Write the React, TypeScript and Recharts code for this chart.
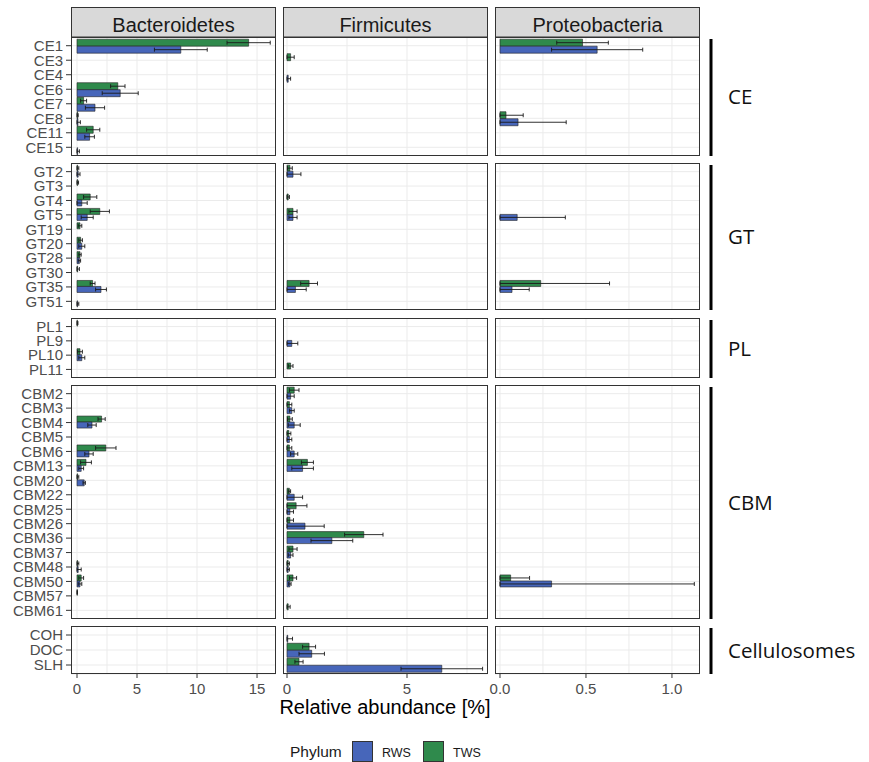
import React from 'react';
import { BarChart, Bar, XAxis, YAxis, CartesianGrid, ErrorBar } from 'recharts';

type Pt = [number, number] | null; // [mean, sd]

const phyla = ['Bacteroidetes', 'Firmicutes', 'Proteobacteria'];
const modules = ['CE', 'GT', 'PL', 'CBM', 'Cellulosomes'];

const ceCats = ['CE1', 'CE3', 'CE4', 'CE6', 'CE7', 'CE8', 'CE11', 'CE15'];
const gtCats = ['GT2', 'GT3', 'GT4', 'GT5', 'GT19', 'GT20', 'GT28', 'GT30', 'GT35', 'GT51'];
const plCats = ['PL1', 'PL9', 'PL10', 'PL11'];
const cbmCats = [
  'CBM2', 'CBM3', 'CBM4', 'CBM5', 'CBM6', 'CBM13', 'CBM20', 'CBM22',
  'CBM25', 'CBM26', 'CBM36', 'CBM37', 'CBM48', 'CBM50', 'CBM57', 'CBM61',
];
const cellCats = ['COH', 'DOC', 'SLH'];

// CE
const ceBactTWS: Pt[] = [[14.3, 1.8], null, null, [3.4, 0.6], [0.55, 0.25], [0.05, 0.05], [1.35, 0.55], null];
const ceBactRWS: Pt[] = [[8.65, 2.2], null, null, [3.6, 1.5], [1.5, 0.8], [0.08, 0.2], [1.05, 0.4], [0.05, 0.15]];
const ceFirmTWS: Pt[] = [null, [0.15, 0.15], null, null, null, null, null, null];
const ceFirmRWS: Pt[] = [null, null, [0.05, 0.1], null, null, null, null, null];
const ceProtTWS: Pt[] = [[0.48, 0.15], null, null, null, null, [0.035, 0.1], null, null];
const ceProtRWS: Pt[] = [[0.565, 0.265], null, null, null, null, [0.105, 0.28], null, null];

// GT
const gtBactTWS: Pt[] = [[0.05, 0.1], [0.05, 0.08], [1.1, 0.55], [1.9, 0.8], [0.25, 0.15], [0.3, 0.15], [0.25, 0.1], [0.05, 0.15], [1.3, 0.2], null];
const gtBactRWS: Pt[] = [[0.1, 0.15], null, [0.4, 0.45], [0.85, 0.5], null, [0.4, 0.25], [0.2, 0.1], null, [2.0, 0.45], [0.05, 0.1]];
const gtFirmTWS: Pt[] = [[0.12, 0.1], null, [0.05, 0.05], [0.25, 0.17], null, null, null, null, [0.92, 0.35], null];
const gtFirmRWS: Pt[] = [[0.25, 0.33], null, null, [0.25, 0.17], null, null, null, null, [0.35, 0.45], null];
const gtProtTWS: Pt[] = [null, null, null, null, null, null, null, null, [0.237, 0.4], null];
const gtProtRWS: Pt[] = [null, null, null, [0.1, 0.28], null, null, null, null, [0.07, 0.1], null];

// PL
const plBactTWS: Pt[] = [[0.03, 0.05], null, [0.25, 0.2], null];
const plBactRWS: Pt[] = [null, null, [0.4, 0.25], null];
const plFirmTWS: Pt[] = [null, null, null, [0.15, 0.1]];
const plFirmRWS: Pt[] = [null, [0.2, 0.25], null, null];
const plProtTWS: Pt[] = [null, null, null, null];
const plProtRWS: Pt[] = [null, null, null, null];

// CBM
const cbmBactTWS: Pt[] = [null, null, [2.05, 0.3], null, [2.4, 0.85], [0.75, 0.45], [0.05, 0.1], null, null, null, null, null, [0.05, 0.1], [0.35, 0.2], [0.02, 0.02], null];
const cbmBactRWS: Pt[] = [null, null, [1.25, 0.35], null, [1.0, 0.35], [0.35, 0.2], [0.6, 0.1], null, null, null, null, null, [0.1, 0.25], [0.25, 0.15], null, null];
const cbmFirmTWS: Pt[] = [[0.3, 0.2], [0.1, 0.1], [0.12, 0.1], [0.08, 0.08], [0.1, 0.1], [0.85, 0.25], null, [0.1, 0.05], [0.38, 0.45], [0.12, 0.15], [3.2, 0.8], [0.25, 0.17], [0.05, 0.05], [0.25, 0.15], null, [0.05, 0.08]];
const cbmFirmRWS: Pt[] = [[0.15, 0.15], [0.2, 0.1], [0.3, 0.25], [0.1, 0.1], [0.3, 0.15], [0.65, 0.45], null, [0.3, 0.35], [0.12, 0.15], [0.75, 0.8], [1.87, 0.87], [0.15, 0.1], [0.05, 0.05], [0.12, 0.05], null, null];
const cbmProtTWS: Pt[] = [null, null, null, null, null, null, null, null, null, null, null, null, null, [0.062, 0.11], null, null];
const cbmProtRWS: Pt[] = [null, null, null, null, null, null, null, null, null, null, null, null, null, [0.3, 0.83], null, null];

// Cellulosomes
const cellBactTWS: Pt[] = [null, null, null];
const cellBactRWS: Pt[] = [null, null, null];
const cellFirmTWS: Pt[] = [null, [0.92, 0.27], [0.5, 0.17]];
const cellFirmRWS: Pt[] = [[0.03, 0.2], [1.03, 0.53], [6.45, 1.7]];
const cellProtTWS: Pt[] = [null, null, null];
const cellProtRWS: Pt[] = [null, null, null];

const GREEN = '#2F8A4C';
const BLUE = '#4766BA';
const FONT = '"Liberation Sans", Arial, sans-serif';
const PANEL_W = 205;
const Y_AXIS_W = 71;
const SIDE_PAD = 14; // room for x tick labels on cols 2 and 3

const COLS = [
  { left: 71, domain: [-0.5, 16.58], major: [0, 5, 10, 15], minor: [2.5, 7.5, 12.5], fmt: (v: number) => String(v) },
  { left: 283, domain: [-0.167, 8.375], major: [0, 5], minor: [2.5, 7.5], fmt: (v: number) => String(v) },
  { left: 495, domain: [-0.029, 1.163], major: [0, 0.5, 1], minor: [0.25, 0.75], fmt: (v: number) => v.toFixed(1) },
];

const ROWS = [
  { top: 37, h: 119 },
  { top: 163, h: 147 },
  { top: 318, h: 60 },
  { top: 385, h: 234 },
  { top: 626, h: 48 },
];

const facetCats = [ceCats, gtCats, plCats, cbmCats, cellCats];
const facetData: [Pt[], Pt[]][][] = [
  [[ceBactTWS, ceBactRWS], [ceFirmTWS, ceFirmRWS], [ceProtTWS, ceProtRWS]],
  [[gtBactTWS, gtBactRWS], [gtFirmTWS, gtFirmRWS], [gtProtTWS, gtProtRWS]],
  [[plBactTWS, plBactRWS], [plFirmTWS, plFirmRWS], [plProtTWS, plProtRWS]],
  [[cbmBactTWS, cbmBactRWS], [cbmFirmTWS, cbmFirmRWS], [cbmProtTWS, cbmProtRWS]],
  [[cellBactTWS, cellBactRWS], [cellFirmTWS, cellFirmRWS], [cellProtTWS, cellProtRWS]],
];

// error whiskers: lower end stops at zero
const errOf = (p: Pt) => (p ? [Math.min(p[1], p[0]), p[1]] : null);

function Panel({ row, col }: { row: number; col: number }) {
  const c = COLS[col];
  const r = ROWS[row];
  const cats = facetCats[row];
  const [tws, rws] = facetData[row][col];
  const last = row === ROWS.length - 1;
  const leftPad = col === 0 ? 0 : SIDE_PAD;
  const yw = col === 0 ? Y_AXIS_W : 0;
  const xh = last ? 30 : 0;
  const pad = (0.1 * r.h) / (cats.length + 0.2);

  const data = cats.map((name, i) => ({
    name,
    tws: tws[i] ? tws[i]![0] : null,
    twsErr: errOf(tws[i]),
    rws: rws[i] ? rws[i]![0] : null,
    rwsErr: errOf(rws[i]),
  }));

  return (
    <div style={{ position: 'absolute', left: c.left - yw - leftPad, top: r.top }}>
      <BarChart
        width={PANEL_W + yw + leftPad}
        height={r.h + xh}
        data={data}
        layout="vertical"
        margin={{ top: 0, right: 0, bottom: 0, left: leftPad }}
        barCategoryGap="5%"
        barGap={0}
      >
        <CartesianGrid stroke="#EBEBEB" strokeWidth={1} verticalValues={[...c.major, ...c.minor]} />
        <XAxis
          type="number"
          domain={c.domain}
          allowDataOverflow
          ticks={c.major}
          interval={0}
          hide={!last}
          height={30}
          tickSize={4}
          tickMargin={5}
          axisLine={false}
          tickLine={{ stroke: '#333' }}
          tick={{ fontSize: 15, fill: '#4D4D4D' }}
          tickFormatter={c.fmt}
        />
        <YAxis
          type="category"
          dataKey="name"
          hide={col !== 0}
          width={Y_AXIS_W}
          interval={0}
          padding={{ top: pad, bottom: pad }}
          tickSize={5}
          tickMargin={3}
          axisLine={false}
          tickLine={{ stroke: '#333' }}
          tick={{ fontSize: 15, fill: '#4D4D4D' }}
        />
        <Bar dataKey="tws" fill={GREEN} stroke="#222" strokeWidth={0.6} isAnimationActive={false}>
          <ErrorBar dataKey="twsErr" direction="x" width={2} stroke="#1a1a1a" strokeWidth={0.9} />
        </Bar>
        <Bar dataKey="rws" fill={BLUE} stroke="#222" strokeWidth={0.6} isAnimationActive={false}>
          <ErrorBar dataKey="rwsErr" direction="x" width={2} stroke="#1a1a1a" strokeWidth={0.9} />
        </Bar>
      </BarChart>
    </div>
  );
}

export default function App() {
  const panels = [];
  for (let r = 0; r < ROWS.length; r++) {
    for (let c = 0; c < COLS.length; c++) {
      panels.push(<Panel key={`${r}-${c}`} row={r} col={c} />);
    }
  }

  return (
    <div
      style={{
        position: 'absolute',
        left: 0,
        top: 0,
        width: 869,
        height: 762,
        background: '#fff',
        fontFamily: FONT,
        overflow: 'hidden',
      }}
    >
      <svg width={869} height={762} style={{ position: 'absolute', left: 0, top: 0 }}>
        {COLS.map((c, i) => (
          <g key={phyla[i]}>
            <rect x={c.left + 0.5} y={7.5} width={PANEL_W - 1} height={29.5} fill="#D9D9D9" stroke="#333" strokeWidth={1} />
            <text x={c.left + PANEL_W / 2} y={31.5} textAnchor="middle" fontSize={20} fill="#1A1A1A" fontFamily={FONT}>
              {phyla[i]}
            </text>
          </g>
        ))}
        {ROWS.map((r, i) => (
          <g key={modules[i]}>
            <line x1={711} x2={711} y1={r.top + 2} y2={r.top + r.h} stroke="#000" strokeWidth={3} />
            <text x={728} y={r.top + r.h / 2 + 7.5} fontSize={20.5} fill="#111" fontFamily='"Open Sans", "Noto Sans", sans-serif'>
              {modules[i]}
            </text>
          </g>
        ))}
        <text x={385} y={714} textAnchor="middle" fontSize={20} fill="#000" fontFamily={FONT}>
          Relative abundance [%]
        </text>
        <text x={290} y={757} fontSize={15.5} fill="#1A1A1A" fontFamily={FONT}>Phylum</text>
        <rect x={352.5} y={741.5} width={20} height={20} fill={BLUE} stroke="#333" strokeWidth={1} />
        <text x={382} y={756.5} fontSize={12.5} fill="#1A1A1A" fontFamily={FONT}>RWS</text>
        <rect x={423.5} y={741.5} width={20} height={20} fill={GREEN} stroke="#333" strokeWidth={1} />
        <text x={453} y={756.5} fontSize={12.5} fill="#1A1A1A" fontFamily={FONT}>TWS</text>
      </svg>
      {panels}
      <svg width={869} height={762} style={{ position: 'absolute', left: 0, top: 0, pointerEvents: 'none' }}>
        {ROWS.map((r, ri) =>
          COLS.map((c, ci) => (
            <rect
              key={`${ri}-${ci}`}
              x={c.left + 0.5}
              y={r.top + 0.5}
              width={PANEL_W - 1}
              height={r.h - 1}
              fill="none"
              stroke="#333"
              strokeWidth={1}
            />
          ))
        )}
      </svg>
    </div>
  );
}
